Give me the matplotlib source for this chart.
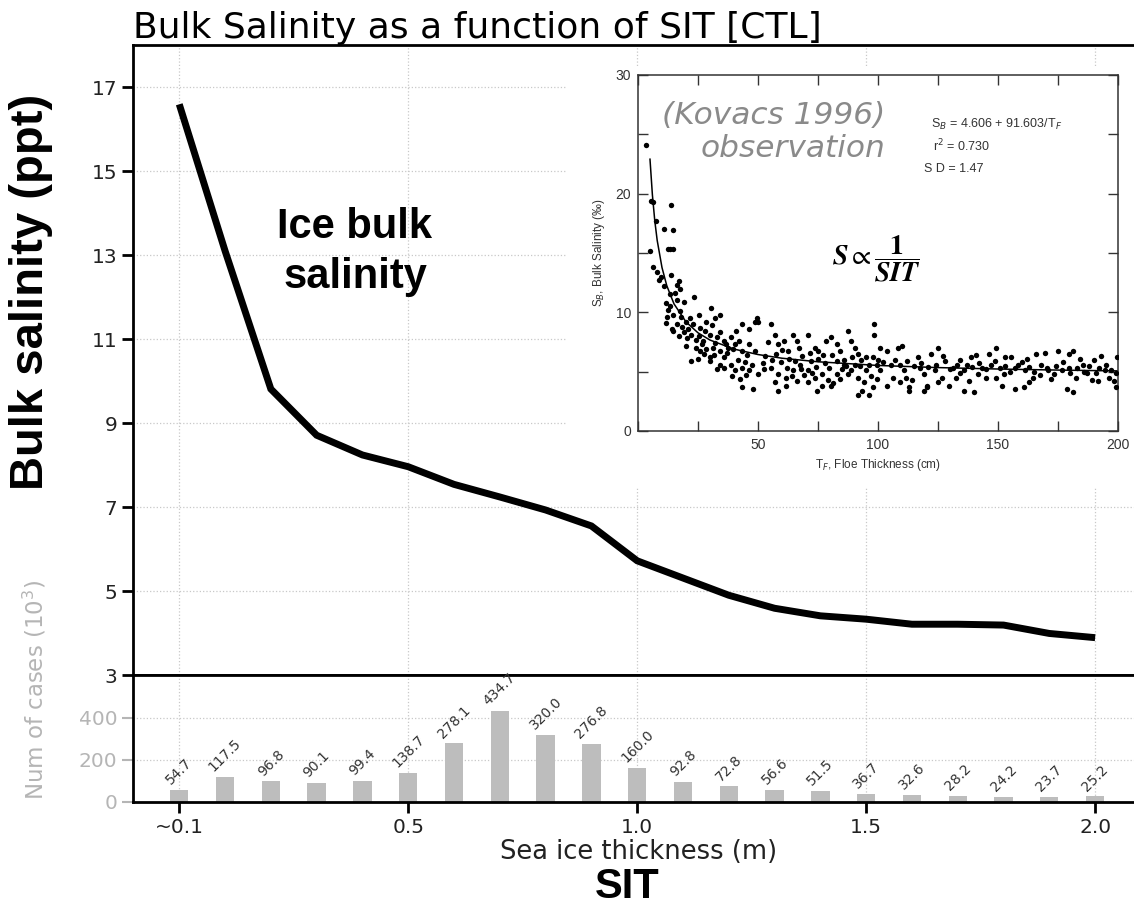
import matplotlib
matplotlib.use("Agg")
import matplotlib.pyplot as plt

# 海冰厚度分箱 (m)，第一个箱标为 "~0.1"
sit = [0.0, 0.1, 0.2, 0.3, 0.4, 0.5, 0.6, 0.7, 0.8, 0.9, 1.0,
       1.1, 1.2, 1.3, 1.4, 1.5, 1.6, 1.7, 1.8, 1.9, 2.0]
bulk_sal = [16.59, 13.1, 9.81, 8.71, 8.24, 7.96, 7.54, 7.24, 6.93, 6.55, 5.72,
            5.31, 4.90, 4.59, 4.41, 4.33, 4.21, 4.21, 4.19, 3.99, 3.89]
n_cases = [54.7, 117.5, 96.8, 90.1, 99.4, 138.7, 278.1, 434.7, 320.0, 276.8, 160.0,
           92.8, 72.8, 56.6, 51.5, 36.7, 32.6, 28.2, 24.2, 23.7, 25.2]
xticks = [0.0, 0.5, 1.0, 1.5, 2.0]
xticklabels = ["~0.1", "0.5", "1.0", "1.5", "2.0"]
sal_ticks = [3, 5, 7, 9, 11, 13, 15, 17]
case_ticks = [0, 200, 400]

kovacs_obs = [
    (3.3, 24.1), (5.3, 19.4), (6.4, 19.3), (13.9, 19.0), (7.4, 17.7), (10.9, 17.0),
    (14.7, 16.9), (5.0, 15.2), (13.2, 15.3), (14.7, 15.3), (12.4, 15.3), (6.4, 13.8),
    (7.9, 13.4), (9.4, 13.0), (13.9, 13.1), (16.2, 12.3), (17.7, 12.0), (13.2, 11.5),
    (15.4, 11.6), (16.9, 12.6), (8.6, 12.7), (11.0, 12.2), (23.4, 11.3), (11.6, 10.8),
    (13.2, 10.5), (19.2, 10.9), (17.7, 10.1), (14.7, 9.8), (12.4, 10.2), (16.2, 11.0),
    (11.6, 9.1), (16.2, 9.0), (18.5, 8.8), (21.5, 9.5), (25.3, 9.8), (26.0, 8.7),
    (20.0, 9.2), (14.0, 8.6), (30.6, 10.4), (32.1, 9.5), (34.3, 9.8), (28.3, 9.2),
    (31.0, 8.9), (14.7, 8.4), (19.2, 8.3), (22.2, 8.1), (25.3, 8.0), (29.8, 8.1),
    (34.3, 8.3), (35.9, 7.6), (38.9, 7.9), (27.0, 7.6), (24.0, 7.7), (20.5, 7.8),
    (32.0, 7.4), (43.4, 9.0), (48.7, 9.2), (46.4, 8.6), (41.0, 8.4), (22.2, 5.9),
    (26.0, 6.7), (31.3, 7.0), (34.3, 6.7), (37.4, 7.0), (40.4, 7.3), (43.4, 6.7),
    (46.4, 7.3), (48.7, 6.7), (35.9, 6.2), (38.9, 5.6), (43.4, 5.3), (32.8, 5.2),
    (46.4, 5.1), (50.2, 4.8), (52.5, 5.2), (27.5, 6.5), (29.8, 5.9), (34.3, 5.6),
    (40.4, 5.1), (24.0, 7.0), (28.5, 6.9), (30.0, 6.2), (36.5, 7.3), (41.5, 6.0),
    (44.5, 5.8), (43.4, 3.7), (48.0, 3.5), (42.5, 4.4), (45.0, 4.7),
    (18.0, 9.6), (21.0, 8.6), (23.0, 9.0), (26.5, 7.3), (28.0, 8.4), (33.0, 7.9),
    (37.0, 6.6), (39.5, 6.9), (42.0, 7.6), (45.5, 6.4), (47.5, 5.6), (36.0, 5.3),
    (39.0, 4.6), (31.5, 6.4), (25.0, 6.1), (20.0, 7.2), (17.0, 8.0), (12.0, 9.6),
    (49.5, 9.5), (50.2, 9.2), (55.5, 9.0), (57.0, 8.1), (58.5, 7.3), (60.8, 7.6),
    (62.3, 6.7), (64.6, 8.1), (66.1, 7.6), (70.7, 8.1), (73.7, 7.0), (75.2, 6.7),
    (78.2, 7.6), (80.5, 7.9), (82.8, 7.3), (84.3, 6.7), (87.3, 8.4), (88.8, 7.6),
    (90.3, 7.0), (91.8, 6.5), (94.9, 6.2), (96.4, 5.6), (90.3, 5.6), (55.5, 5.3),
    (58.5, 4.8), (61.6, 4.5), (64.6, 5.1), (67.6, 5.6), (70.7, 5.1), (73.7, 4.5),
    (76.7, 4.8), (79.7, 5.3), (82.8, 4.8), (85.8, 5.6), (88.8, 5.1), (91.8, 4.5),
    (94.9, 5.1), (57.0, 4.1), (61.6, 3.8), (66.1, 4.2), (70.7, 4.1), (76.7, 3.8),
    (81.2, 4.0), (84.3, 4.4), (58.5, 3.4), (74.4, 3.4), (80.5, 3.8), (97.9, 6.2),
    (99.4, 5.6), (53.0, 6.3), (56.0, 6.0), (59.5, 5.8), (63.0, 6.1), (65.5, 5.9),
    (68.5, 6.3), (72.0, 5.9), (75.0, 6.1), (78.0, 5.7), (81.0, 6.4), (86.0, 6.0),
    (89.0, 6.2), (93.0, 6.0), (60.0, 6.8), (67.0, 7.0), (71.5, 6.6), (77.0, 6.4),
    (85.0, 5.2), (92.5, 5.5), (54.0, 7.5), (62.0, 5.3), (69.0, 4.7), (74.0, 5.4),
    (83.0, 5.9), (87.5, 4.8), (97.0, 4.6), (52.0, 5.7), (57.5, 6.5), (64.0, 4.6),
    (68.0, 5.2), (72.5, 4.9), (79.0, 4.3), (86.5, 5.5), (94.0, 4.1),
    (98.2, 9.0), (98.2, 8.1), (100.9, 7.0), (100.2, 6.0), (100.9, 5.1), (99.4, 4.4),
    (97.9, 3.7), (96.4, 3.0), (91.8, 3.0), (93.3, 3.4), (103.9, 6.7), (105.4, 5.6),
    (106.2, 4.5), (103.9, 3.8), (108.5, 7.0), (110.0, 7.2), (109.2, 5.6), (110.7, 5.1),
    (111.5, 4.5), (109.2, 4.1), (113.0, 3.7), (113.0, 3.4), (116.8, 6.2), (117.5, 5.3),
    (119.1, 4.8), (120.6, 3.8), (119.1, 3.4), (122.1, 6.5), (125.1, 7.0), (123.6, 5.1),
    (126.6, 4.5), (125.1, 4.1), (120.6, 3.7), (131.2, 5.3), (132.7, 4.5), (134.2, 4.9),
    (129.7, 3.8), (135.7, 3.4), (140.2, 3.3), (137.2, 5.6), (138.7, 6.2), (141.8, 4.8),
    (143.3, 5.3), (144.8, 4.5), (146.3, 6.5), (149.3, 7.0), (148.6, 5.9), (150.8, 5.3),
    (152.3, 4.8), (149.3, 4.5), (151.6, 3.8), (156.9, 3.5), (160.7, 3.7), (155.4, 6.2),
    (158.4, 5.6), (161.4, 5.1), (164.4, 4.5), (167.5, 4.7), (166.0, 6.5), (169.7, 6.6),
    (170.5, 5.3), (173.5, 4.8), (176.5, 5.1), (175.0, 6.7), (179.6, 6.5), (181.1, 6.7),
    (178.8, 3.5), (181.1, 3.3), (179.6, 5.3), (182.6, 4.5), (185.6, 5.6), (187.1, 4.9),
    (190.2, 6.0), (190.9, 4.9), (191.7, 4.2), (194.7, 5.1), (196.2, 4.5), (199.2, 4.9),
    (199.2, 3.7), (199.7, 6.2), (198.5, 4.2), (102.0, 5.8), (107.0, 6.0), (112.0, 5.9),
    (115.0, 5.5), (118.0, 5.7), (121.0, 5.4), (124.0, 5.6), (128.0, 5.9), (130.0, 5.2),
    (133.0, 5.6), (136.0, 5.1), (139.0, 5.4), (142.0, 5.7), (145.0, 5.2), (147.0, 5.6),
    (153.0, 5.5), (155.0, 5.0), (157.0, 5.3), (160.0, 5.8), (163.0, 5.4), (165.0, 5.0),
    (168.0, 5.6), (171.0, 5.1), (174.0, 5.5), (177.0, 5.8), (180.0, 4.9), (183.0, 5.3),
    (186.0, 5.0), (188.0, 5.5), (192.0, 5.3), (195.0, 5.6), (197.0, 5.1), (127.0, 6.3),
    (134.0, 6.0), (141.0, 6.4), (153.0, 6.2), (162.0, 6.1), (184.0, 6.1), (193.0, 6.3),
    (114.0, 4.3), (138.0, 4.2), (163.0, 4.1), (172.0, 4.4), (189.0, 4.3),
]
obs_t = [p[0] for p in kovacs_obs]
obs_s = [p[1] for p in kovacs_obs]

# 拟合曲线 S_B = 4.606 + 91.603/T_F，沿曲线读点
fit_t = [5, 6, 7, 8, 10, 12, 15, 20, 25, 30, 40, 50, 60, 75, 100, 125, 150, 175, 200]
fit_s = [22.9, 19.9, 17.7, 16.06, 13.77, 12.24, 10.71, 9.19, 8.27, 7.66, 6.9, 6.44,
         6.13, 5.83, 5.52, 5.34, 5.22, 5.13, 5.06]

GRAY = "#b5b5b5"
ARIAL = "Liberation Sans"

fig = plt.figure(figsize=(11.34, 9.05), dpi=100)

# 上面的盐度曲线
ax = fig.add_axes([0.1177, 0.2541, 0.8884, 0.6961])
ax.plot(sit, bulk_sal, color="k", lw=5, solid_capstyle="butt", solid_joinstyle="miter", zorder=3)
ax.set_xlim(-0.1, 2.1)
ax.set_ylim(3, 18)
ax.set_yticks(sal_ticks)
ax.set_xticks(xticks)
ax.tick_params(axis="x", bottom=False, labelbottom=False)
ax.tick_params(axis="y", direction="out", length=8, width=2, labelsize=14.5, labelcolor="#222222")
ax.grid(True, ls=":", color="#c8c8c8", lw=0.9)
for s in ax.spines.values():
    s.set_linewidth(2)
ax.set_title("Bulk Salinity as a function of SIT [CTL]", loc="left", fontsize=26, pad=4)

# 下面的样本数柱状图
axb = fig.add_axes([0.1177, 0.1141, 0.8884, 0.14], sharex=ax)
axb.bar(sit, n_cases, width=0.04, color="#bdbdbd", zorder=2)
for x, v in zip(sit, n_cases):
    axb.annotate(f"{v:.1f}", (x, v), xytext=(0, 2), textcoords="offset points",
                 ha="center", va="bottom", rotation=45, fontsize=10, color="#333333")
axb.set_ylim(0, 605)
axb.set_yticks(case_ticks)
axb.set_xticks(xticks)
axb.set_xticklabels(xticklabels)
axb.tick_params(axis="y", length=8, width=1.5, color=GRAY, labelcolor=GRAY, labelsize=14.5)
axb.tick_params(axis="x", direction="out", length=8, width=2, labelsize=14.5, labelcolor="#222222")
axb.grid(True, ls=":", color="#c8c8c8", lw=0.9)
for s in axb.spines.values():
    s.set_linewidth(2)

fig.text(0.563, 0.0586, "Sea ice thickness (m)", ha="center", va="center", fontsize=18.5, color="#222222")
fig.text(0.553, 0.020, "SIT", ha="center", va="center", fontsize=30, weight="bold", family=ARIAL)
fig.text(0.027, 0.677, "Bulk salinity (ppt)", rotation=90, ha="center", va="center",
         fontsize=34, weight="bold", family=ARIAL)
fig.text(0.031, 0.2376, "Num of cases (10$^3$)", rotation=90, ha="center", va="center",
         fontsize=16.5, color=GRAY)
fig.text(0.313, 0.722, "Ice bulk\nsalinity", ha="center", va="center", fontsize=30,
         weight="bold", family=ARIAL, linespacing=1.32)

# 右上角插图 (Kovacs 1996) 的白底
bg = fig.add_axes([0.5, 0.4619, 0.51, 0.4652], zorder=3)
bg.set_facecolor("white")
bg.set_xticks([])
bg.set_yticks([])
for s in bg.spines.values():
    s.set_visible(False)

ins = fig.add_axes([0.5626, 0.5238, 0.4233, 0.3934], zorder=4)
ins.scatter(obs_t, obs_s, s=15, c="k", lw=0, zorder=3)
ins.plot(fit_t, fit_s, color="k", lw=1.1, zorder=2)
ins.set_xlim(0, 200)
ins.set_ylim(0, 30)
ins.set_xticks([0, 50, 100, 150, 200])
ins.set_xticklabels(["", "50", "100", "150", "200"], family=ARIAL)
ins.set_xticks([25, 75, 125, 175], minor=True)
ins.set_yticks([0, 10, 20, 30])
ins.set_yticklabels(["0", "10", "20", "30"], family=ARIAL)
ins.set_yticks([5, 15, 25], minor=True)
ins.tick_params(which="both", direction="in", top=True, right=True, length=7, width=1,
                labelsize=10, pad=5, color="#333333", labelcolor="#333333")
for s in ins.spines.values():
    s.set_linewidth(1.1)
    s.set_color("#333333")
ins.set_xlabel("T$_F$, Floe Thickness (cm)", family=ARIAL, fontsize=8.5, color="#333333", labelpad=4)
ins.set_ylabel("S$_B$, Bulk Salinity (‰)", family=ARIAL, fontsize=8.5, color="#333333", labelpad=6)
ins.text(0.61, 0.862, "S$_B$ = 4.606 + 91.603/T$_F$", transform=ins.transAxes, family=ARIAL,
         fontsize=9, color="#333333", va="center")
ins.text(0.615, 0.80, "r$^2$ = 0.730", transform=ins.transAxes, family=ARIAL,
         fontsize=9, color="#333333", va="center")
ins.text(0.595, 0.735, "S D = 1.47", transform=ins.transAxes, family=ARIAL,
         fontsize=9, color="#333333", va="center")
ins.text(0.515, 0.84, "(Kovacs 1996)\nobservation", transform=ins.transAxes, ha="right",
         va="center", multialignment="right", fontsize=22.5, style="italic", color="#8a8a8a",
         linespacing=1.15)
ins.text(0.497, 0.485, r"$\mathbfit{S}\propto\dfrac{\mathbf{1}}{\mathbfit{SIT}}$",
         transform=ins.transAxes, ha="center", va="center", fontsize=20, math_fontfamily="stix")

fig.savefig("out.png", dpi=100)
